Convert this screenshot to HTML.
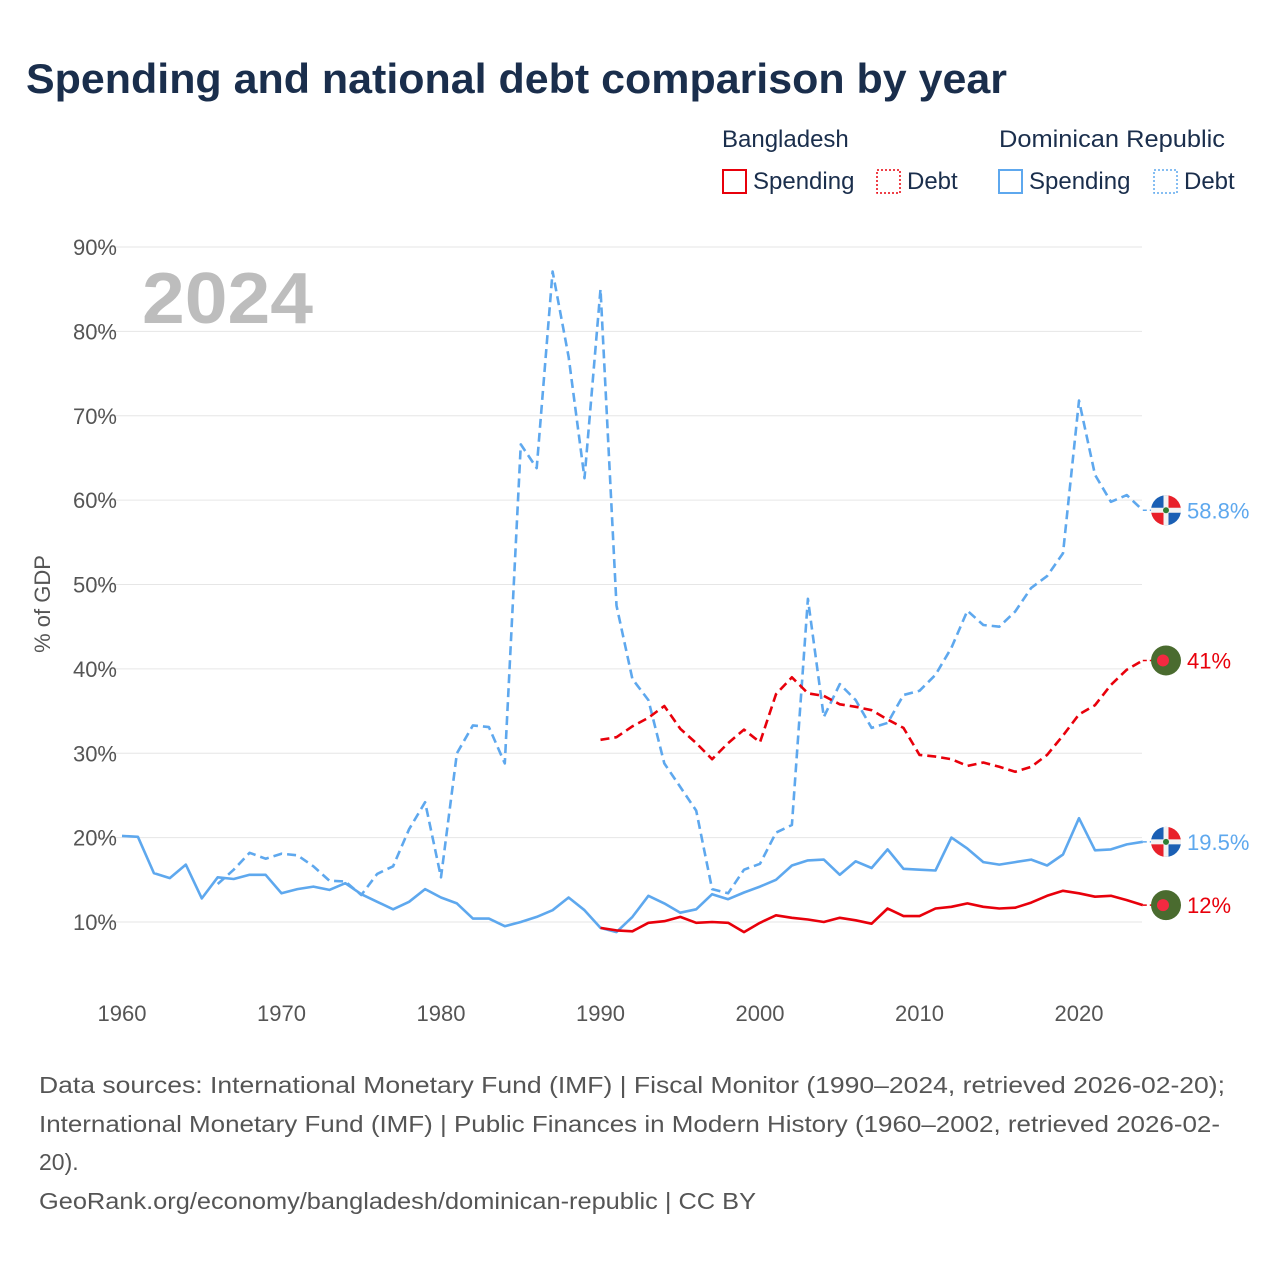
<!DOCTYPE html>
<html><head><meta charset="utf-8"><style>
body{margin:0;background:#fff;font-family:"Liberation Sans",sans-serif}
svg text{font-family:"Liberation Sans",sans-serif}
</style></head><body>
<svg id="chart" width="1280" height="1280" viewBox="0 0 1280 1280">
<text x="26" y="93" font-size="42" font-weight="bold" fill="#1a2e4c" textLength="981" lengthAdjust="spacingAndGlyphs">Spending and national debt comparison by year</text>
<g font-size="24" fill="#1a2e4c">
<text x="722" y="147" fill="#1a2e4c">Bangladesh</text>
<text x="999" y="147" fill="#1a2e4c" textLength="226" lengthAdjust="spacingAndGlyphs">Dominican Republic</text>
<rect x="723" y="170" width="23" height="23" fill="none" stroke="#e8000b" stroke-width="2"/>
<text x="753" y="189" fill="#1a2e4c">Spending</text>
<rect x="877" y="170" width="23" height="23" fill="none" stroke="#e8000b" stroke-width="1.5" stroke-dasharray="2,2"/>
<text x="907" y="189" fill="#1a2e4c">Debt</text>
<rect x="999" y="170" width="23" height="23" fill="none" stroke="#5ea8ee" stroke-width="2"/>
<text x="1029" y="189" fill="#1a2e4c">Spending</text>
<rect x="1154" y="170" width="23" height="23" fill="none" stroke="#5ea8ee" stroke-width="1.5" stroke-dasharray="2,2"/>
<text x="1184" y="189" fill="#1a2e4c">Debt</text>
</g>
<g id="grid"></g>
<text x="142" y="323" font-size="72" font-weight="bold" fill="#bdbdbd" textLength="171" lengthAdjust="spacingAndGlyphs">2024</text>
<text transform="translate(50,604) rotate(-90)" text-anchor="middle" font-size="22" fill="#555">% of GDP</text>
<g id="series"></g>
<g font-size="23" fill="#555">
<text x="39" y="1093" textLength="1186" lengthAdjust="spacingAndGlyphs">Data sources: International Monetary Fund (IMF) | Fiscal Monitor (1990–2024, retrieved 2026-02-20);</text>
<text x="39" y="1132" textLength="1181" lengthAdjust="spacingAndGlyphs">International Monetary Fund (IMF) | Public Finances in Modern History (1960–2002, retrieved 2026-02-</text>
<text x="39" y="1170">20).</text>
<text x="39" y="1209" textLength="717" lengthAdjust="spacingAndGlyphs">GeoRank.org/economy/bangladesh/dominican-republic | CC BY</text>
</g>
</svg>
<script>
const yTicks=[10,20,30,40,50,60,70,80,90];
const xTicks=[1960,1970,1980,1990,2000,2010,2020];
const drSpendStart=1960;
const drSpending=[20.2,20.1,15.8,15.2,16.8,12.8,15.3,15.1,15.6,15.6,13.4,13.9,14.2,13.8,14.6,13.3,12.4,11.5,12.4,13.9,12.9,12.2,10.4,10.4,9.5,10.0,10.6,11.4,12.9,11.4,9.3,8.8,10.6,13.1,12.2,11.1,11.5,13.3,12.7,13.5,14.2,15.0,16.7,17.3,17.4,15.6,17.2,16.4,18.6,16.3,16.2,16.1,20.0,18.7,17.1,16.8,17.1,17.4,16.7,18.0,22.3,18.5,18.6,19.2,19.5];
const drDebtStart=1966;
const drDebt=[14.5,16.2,18.2,17.5,18.1,17.9,16.6,14.9,14.8,13.2,15.7,16.6,21.0,24.2,15.3,30.0,33.3,33.1,28.8,66.6,63.8,87.1,77.0,62.6,85.0,47.5,38.8,36.3,28.8,26.0,23.2,13.9,13.4,16.2,16.9,20.6,21.5,48.3,34.3,38.2,36.3,33.0,33.6,36.9,37.4,39.3,42.5,46.9,45.2,45.0,46.8,49.6,51.0,53.7,71.8,63.0,59.8,60.6,58.8];
const bdStart=1990;
const bdDebt=[31.6,31.9,33.2,34.2,35.6,32.9,31.2,29.3,31.2,32.8,31.3,37.0,39.0,37.1,36.8,35.8,35.5,35.1,34.0,33.0,29.8,29.6,29.3,28.5,28.9,28.4,27.8,28.4,29.8,32.1,34.6,35.7,38.1,39.9,41.0];
const bdSpending=[9.3,9.0,8.9,9.9,10.1,10.6,9.9,10.0,9.9,8.8,9.9,10.8,10.5,10.3,10.0,10.5,10.2,9.8,11.6,10.7,10.7,11.6,11.8,12.2,11.8,11.6,11.7,12.3,13.1,13.7,13.4,13.0,13.1,12.6,12.0];
const endLabels=["58.8%","41%","19.5%","12%"];

const NS="http://www.w3.org/2000/svg";
const X=y=>122+(y-1960)*(1079-122)/60;
const Y=v=>922-(v-10)*(922-247)/80;
function mk(t,a,p){const e=document.createElementNS(NS,t);for(const k in a)e.setAttribute(k,a[k]);p.appendChild(e);return e;}
const grid=document.getElementById('grid'),ser=document.getElementById('series');
yTicks.forEach(v=>{
 const l=mk('line',{x1:94,x2:1142,y1:Y(v),y2:Y(v),stroke:'#e6e6e6','stroke-width':1},grid);
 
 
 const t=mk('text',{x:117,y:Y(v)+8,'text-anchor':'end','font-size':22,fill:'#555'},grid);
 t.textContent=v+'%';
 
 
});
xTicks.forEach(y=>{
 const t=mk('text',{x:X(y),y:1021,'text-anchor':'middle','font-size':22,fill:'#555'},grid);
 t.textContent=y;
 
 
});
function line(vals,start,color,dash,name){
 const d=vals.map((v,i)=>(i?'L':'M')+X(start+i).toFixed(1)+','+Y(v).toFixed(1)).join('');
 const p=mk('path',{d:d,fill:'none',stroke:color,'stroke-width':2.6,'stroke-linejoin':'round'},ser);
 if(dash)p.setAttribute('stroke-dasharray','9,5');
 
 
 const last=vals[vals.length-1];
 const e=mk('line',{x1:X(start+vals.length-1),x2:1160,y1:Y(last),y2:Y(last),stroke:color,'stroke-width':1.5,'stroke-dasharray':'4,3'},ser);
 
 
 return Y(last);
}
const yDrD=line(drDebt,drDebtStart,'#5ea8ee',true,'dr-debt-line');
const yDrS=line(drSpending,drSpendStart,'#5ea8ee',false,'dr-spending-line');
const yBdD=line(bdDebt,bdStart,'#e8000b',true,'bd-debt-line');
const yBdS=line(bdSpending,bdStart,'#e8000b',false,'bd-spending-line');
function bdFlag(y,name){
 const g=mk('g',{},ser);
 
 
 mk('circle',{cx:1166,cy:y,r:15,fill:'#4a6b2f'},g);
 mk('circle',{cx:1163,cy:y,r:6,fill:'#f42a41'},g);
}
function drFlag(y,name){
 const g=mk('g',{},ser);
 
 
 mk('path',{d:`M1166,${y} L1151,${y} A15,15 0 0 1 1166,${y-15}Z`,fill:'#1a5fb4'},g);
 mk('path',{d:`M1166,${y} L1166,${y-15} A15,15 0 0 1 1181,${y}Z`,fill:'#e8202a'},g);
 mk('path',{d:`M1166,${y} L1151,${y} A15,15 0 0 0 1166,${y+15}Z`,fill:'#e8202a'},g);
 mk('path',{d:`M1166,${y} L1166,${y+15} A15,15 0 0 0 1181,${y}Z`,fill:'#1a5fb4'},g);
 mk('rect',{x:1151,y:y-2.5,width:30,height:5,fill:'#f2f2f2'},g);
 mk('rect',{x:1163.5,y:y-15,width:5,height:30,fill:'#f2f2f2'},g);
 mk('circle',{cx:1166,cy:y,r:3,fill:'#2e7d32'},g);
}
drFlag(yDrD,'dr-debt-flag');bdFlag(yBdD,'bd-debt-flag');drFlag(yDrS,'dr-spending-flag');bdFlag(yBdS,'bd-spending-flag');
[[yDrD,'#5ea8ee'],[yBdD,'#e8000b'],[yDrS,'#5ea8ee'],[yBdS,'#e8000b']].forEach((a,i)=>{
 const t=mk('text',{x:1187,y:a[0]+8,'font-size':22,fill:a[1]},ser);
 t.textContent=endLabels[i];
 
 
});
</script>
</body></html>
